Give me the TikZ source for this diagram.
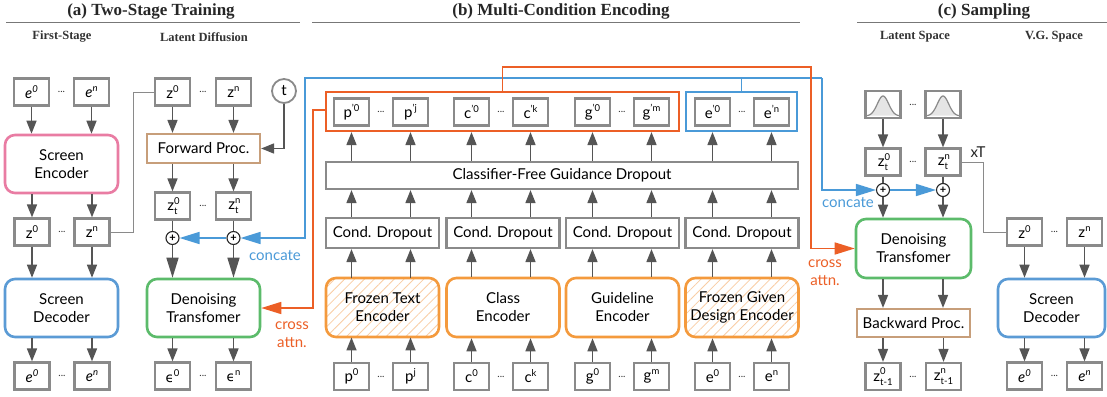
\documentclass[tikz,border=0pt]{standalone}
\usepackage{fontspec}
\setmainfont{Lato}
\newfontfamily\serifb{Liberation Serif}
\newfontfamily\dejavu{DejaVu Sans}
\usetikzlibrary{arrows.meta,patterns.meta,calc}
\definecolor{boxgray}{HTML}{8A8A8A}
\definecolor{arrgray}{HTML}{555555}
\definecolor{pinkc}{HTML}{E97CA3}
\definecolor{bluec}{HTML}{5B9BD5}
\definecolor{greenc}{HTML}{5CBB6B}
\definecolor{tanc}{HTML}{C79E7A}
\definecolor{orangec}{HTML}{F49A3D}
\definecolor{redor}{HTML}{EC5F26}
\definecolor{linkblue}{HTML}{4A9AD8}
\definecolor{hatchc}{HTML}{F9CDA4}
\definecolor{rulec}{HTML}{777777}
\newcommand{\lbl}{\fontsize{15}{18}\selectfont}
\newcommand{\Sup}[2]{#1\raisebox{0.8ex}{\fontsize{9.5}{9.5}\selectfont #2}}
\newcommand{\SupSub}[3]{#1\makebox[0pt][l]{\raisebox{0.85ex}{\fontsize{9.5}{9.5}\selectfont #2}}\raisebox{-0.5ex}{\fontsize{9.5}{9.5}\selectfont #3}}
\tikzset{
  sb/.style={draw=boxgray, line width=2.2pt, minimum width=35pt, minimum height=27pt, inner sep=0pt, fill=white, font=\lbl},
  big/.style={rounded corners=10pt, line width=2.6pt, minimum width=113pt, minimum height=58pt, align=center, fill=white, font=\lbl, inner sep=0pt},
  rectbox/.style={draw=boxgray, line width=2.2pt, minimum width=113pt, minimum height=30pt, inner sep=0pt, fill=white, font=\lbl},
  procbox/.style={draw=tanc, line width=2.2pt, minimum width=113pt, minimum height=29pt, inner sep=0pt, fill=white, font=\lbl},
  hatched/.style={pattern={Lines[angle=45,distance=7pt,line width=0.8pt]}, pattern color=hatchc},
  arr/.style={draw=arrgray, line width=1.5pt, -{Triangle[length=13pt,width=10pt]}},
  arrbig/.style={draw=arrgray, line width=1.5pt, -{Triangle[length=20pt,width=12pt]}},
  plainline/.style={draw=arrgray, line width=1.5pt},
  thinline/.style={draw=boxgray, line width=1pt},
  blueline/.style={draw=linkblue, line width=1.6pt},
  bluearr/.style={draw=linkblue, line width=1.6pt, -{Triangle[length=20pt,width=12pt]}},
  orarr/.style={draw=redor, line width=1.6pt, -{Triangle[length=20pt,width=12pt]}},
  plusc/.style={circle, draw=black!85, line width=1.1pt, fill=white, minimum size=13pt, inner sep=0pt, font=\fontsize{11}{11}\selectfont\bfseries},
  dotsn/.style={font=\fontsize{10}{10}\selectfont, text=black!80},
  title/.style={font=\serifb\bfseries\fontsize{17}{20}\selectfont, text=black!85},
  subtitle/.style={font=\serifb\bfseries\fontsize{12.5}{14}\selectfont, text=black!80},
  rulel/.style={draw=rulec, line width=1pt},
  bluelbl/.style={text=linkblue, font=\lbl},
  orlbl/.style={text=redor, font=\lbl, align=center},
}
\begin{document}
\begin{tikzpicture}[x=1pt,y=-1pt]
\useasboundingbox[fill=white] (0,0) rectangle (1107,396);

% ---------- titles
\node[title] (ta) at (151,11) {(a) Two-Stage Training};
\draw[rulel] (6,23) -- (300,23);
\node[title] (tb) at (561,11) {(b) Multi-Condition Encoding};
\draw[rulel] (312,23) -- (800,23);
\node[title] (tc) at (984,11) {(c) Sampling};
\draw[rulel] (857,23) -- (1107,23);
\node[subtitle] (s1) at (62,37) {First-Stage};
\node[subtitle] (s2) at (204,37) {Latent Diffusion};
\node[subtitle] (s3) at (915,37) {Latent Space};
\node[subtitle] (s4) at (1054,37) {V.G. Space};

% ---------- (a) first stage
\node[sb] (eA0) at (31.5,92) {\Sup{{\itshape e}}{\itshape 0}};
\node[sb] (eAn) at (91.5,92) {\Sup{{\itshape e}}{\itshape n}};
\node[dotsn] (dA1) at (61.5,92) {...};
\node[big, draw=pinkc] (SE) at (61.5,164) {Screen\\Encoder};
\node[sb] (zA0) at (32,232) {\Sup{z}{0}};
\node[sb] (zAn) at (92,232) {\Sup{z}{n}};
\node[dotsn] (dA2) at (62,232) {...};
\node[big, draw=bluec] (SD) at (61.5,308) {Screen\\Decoder};
\node[sb] (eB0) at (32,376) {\Sup{{\itshape e}}{\itshape 0}};
\node[sb] (eBn) at (92,376) {\Sup{{\itshape e}}{\itshape n}};
\node[dotsn] (dA3) at (62,376) {...};

\draw[arr] (eA0) -- (eA0 |- SE.north);
\draw[arr] (eAn) -- (eAn |- SE.north);
\draw[arr] (zA0 |- SE.south) -- (zA0);
\draw[arr] (zAn |- SE.south) -- (zAn);
\draw[arr] (zA0) -- (zA0 |- SD.north);
\draw[arr] (zAn) -- (zAn |- SD.north);
\draw[arr] (eB0 |- SD.south) -- (eB0);
\draw[arr] (eBn |- SD.south) -- (eBn);

% ---------- (a) latent diffusion
\node[sb] (zL0) at (172.5,92) {\Sup{z}{0}};
\node[sb] (zLn) at (233.5,92) {\Sup{z}{n}};
\node[dotsn] (dL1) at (203,92) {...};
\node[circle, draw=boxgray, line width=1.8pt, minimum size=24pt, inner sep=0pt, font=\lbl] (tcirc) at (284,91) {t};
\node[procbox] (FP) at (203.5,148.5) {Forward Proc.};
\node[sb] (zt0) at (172.5,206) {\SupSub{z}{0}{t}};
\node[sb] (ztn) at (233.5,206) {\SupSub{z}{n}{t}};
\node[dotsn] (dL2) at (203,206) {...};
\node[plusc] (pL0) at (172.5,238) {+};
\node[plusc] (pLn) at (233.5,238) {+};
\node[big, draw=greenc] (DT) at (203.5,308) {Denoising\\Transfomer};
\node[sb] (ep0) at (172.5,376) {\Sup{{\dejavu\fontsize{13.5}{13.5}\selectfont ϵ}}{0}};
\node[sb] (epn) at (233.5,376) {\Sup{{\dejavu\fontsize{13.5}{13.5}\selectfont ϵ}}{n}};
\node[dotsn] (dL3) at (203,376) {...};

\coordinate (gA) at (133,92);
\draw[thinline] (zAn.east) -| (gA) -- (zL0.west);
\draw[arr] (zL0) -- (zL0 |- FP.north);
\draw[arr] (zLn) -- (zLn |- FP.north);
\draw[arr] (tcirc) |- (FP.east);
\draw[arr] (zt0 |- FP.south) -- (zt0);
\draw[arr] (ztn |- FP.south) -- (ztn);
\draw[plainline] (zt0) -- (pL0);
\draw[plainline] (ztn) -- (pLn);
\draw[arrbig] (pL0) -- (pL0 |- DT.north);
\draw[arrbig] (pLn) -- (pLn |- DT.north);
\draw[arr] (ep0 |- DT.south) -- (ep0);
\draw[arr] (epn |- DT.south) -- (epn);

% ---------- (b) multi-condition encoding
\node[draw=redor, line width=2.2pt, minimum width=353pt, minimum height=39pt, inner sep=0pt] (OG) at (502.5,111.5) {};
\node[draw=linkblue, line width=2.2pt, minimum width=111pt, minimum height=39pt, inner sep=0pt] (EG) at (741.5,111.5) {};

\node[sb] (pr1a) at (351.5,112) {\Sup{p}{’0}};
\node[sb] (pr1b) at (410.5,112) {\Sup{p}{’j}};
\node[dotsn] (dp1) at (381,112) {...};
\node[sb] (pr2a) at (471.5,112) {\Sup{c}{’0}};
\node[sb] (pr2b) at (530.5,112) {\Sup{c}{’k}};
\node[dotsn] (dp2) at (501,112) {...};
\node[sb] (pr3a) at (592.5,112) {\Sup{g}{’0}};
\node[sb] (pr3b) at (651.5,112) {\Sup{g}{’m}};
\node[dotsn] (dp3) at (622,112) {...};
\node[sb] (pr4a) at (712.5,112) {\Sup{e}{’0}};
\node[sb] (pr4b) at (771.5,112) {\Sup{e}{’n}};
\node[dotsn] (dp4) at (742,112) {...};

\node[draw=boxgray, line width=2.2pt, minimum width=472pt, minimum height=27pt, inner sep=0pt, font=\lbl] (CFG) at (562,175.5) {Classifier-Free Guidance Dropout};

\node[rectbox] (cd1) at (382.5,233) {Cond. Dropout};
\node[rectbox] (cd2) at (503,233) {Cond. Dropout};
\node[rectbox] (cd3) at (622.5,233) {Cond. Dropout};
\node[rectbox] (cd4) at (742,233) {Cond. Dropout};

\node[big, draw=orangec, minimum height=59pt, hatched] (enc1) at (382.5,307.5) {Frozen Text\\Encoder};
\node[big, draw=orangec, minimum height=59pt] (enc2) at (503,307.5) {Class\\Encoder};
\node[big, draw=orangec, minimum height=59pt] (enc3) at (622.5,307.5) {Guideline\\Encoder};
\node[big, draw=orangec, minimum height=59pt, hatched] (enc4) at (742,307.5) {Frozen Given\\Design Encoder};

\node[sb] (in1a) at (351.5,376.5) {\Sup{p}{0}};
\node[sb] (in1b) at (410.5,376.5) {\Sup{p}{j}};
\node[dotsn] (di1) at (381,376.5) {...};
\node[sb] (in2a) at (471.5,376.5) {\Sup{c}{0}};
\node[sb] (in2b) at (530.5,376.5) {\Sup{c}{k}};
\node[dotsn] (di2) at (501,376.5) {...};
\node[sb] (in3a) at (592.5,376.5) {\Sup{g}{0}};
\node[sb] (in3b) at (651.5,376.5) {\Sup{g}{m}};
\node[dotsn] (di3) at (622,376.5) {...};
\node[sb] (in4a) at (712.5,376.5) {\Sup{e}{0}};
\node[sb] (in4b) at (771.5,376.5) {\Sup{e}{n}};
\node[dotsn] (di4) at (742,376.5) {...};

\foreach \n/\e/\c/\g in {in1a/enc1/cd1/OG, in1b/enc1/cd1/OG, in2a/enc2/cd2/OG, in2b/enc2/cd2/OG, in3a/enc3/cd3/OG, in3b/enc3/cd3/OG, in4a/enc4/cd4/EG, in4b/enc4/cd4/EG}{
  \draw[arr] (\n) -- (\n |- \e.south);
  \draw[arr] (\n |- \e.north) -- (\n |- \c.south);
  \draw[arr] (\n |- \c.north) -- (\n |- CFG.south);
  \draw[arr] (\n |- CFG.north) -- (\n |- \g.south);
}

% ---------- (c) sampling
\node[sb] (gs0) at (883,104.5) {};
\node[sb] (gsn) at (943,104.5) {};
\node[dotsn] (dS1) at (913,104.5) {...};
\foreach \cx in {883,943}{
  \fill[black!10] plot[domain=-1:1,samples=40,smooth] ({\cx+16*\x},{116-20*exp(-4*\x*\x)}) -- cycle;
  \draw[boxgray, line width=1.2pt] plot[domain=-1:1,samples=40,smooth] ({\cx+16*\x},{116-20*exp(-4*\x*\x)});
}
\node[sb] (ztS0) at (883,162) {\SupSub{z}{0}{t}};
\node[sb] (ztSn) at (943,162) {\SupSub{z}{n}{t}};
\node[dotsn] (dS2) at (913,162) {...};
\node[plusc] (pS0) at (883,190) {+};
\node[plusc] (pSn) at (943,190) {+};
\node[big, draw=greenc, minimum width=115pt, minimum height=59pt] (DTS) at (913.5,248.5) {Denoising\\Transfomer};
\node[procbox, minimum height=28pt] (BP) at (913.5,323) {Backward Proc.};
\node[sb] (zS0) at (883,376.5) {\SupSub{z}{0}{t-1}};
\node[sb] (zSn) at (943.5,376.5) {\SupSub{z}{n}{t-1}};
\node[dotsn] (dS3) at (913,376.5) {...};
\node[font=\lbl, text=black!85] (xT) at (978,152) {xT};

\draw[arr] (gs0) -- (ztS0);
\draw[arr] (gsn) -- (ztSn);
\draw[plainline] (ztS0) -- (pS0);
\draw[plainline] (ztSn) -- (pSn);
\draw[arr] (pS0) -- (pS0 |- DTS.north);
\draw[arr] (pSn) -- (pSn |- DTS.north);
\draw[arr] (pS0 |- DTS.south) -- (pS0 |- BP.north);
\draw[arr] (pSn |- DTS.south) -- (pSn |- BP.north);
\draw[arr] (zS0 |- BP.south) -- (zS0);
\draw[arr] (zSn |- BP.south) -- (zSn);

% V.G. space
\node[sb] (zV0) at (1024.5,232) {\Sup{z}{0}};
\node[sb] (zVn) at (1084.5,232) {\Sup{z}{n}};
\node[dotsn] (dV1) at (1054.5,232) {...};
\node[big, draw=bluec, minimum width=107pt] (SDV) at (1051.5,308) {Screen\\Decoder};
\node[sb] (eV0) at (1024.5,376) {\Sup{{\itshape e}}{\itshape 0}};
\node[sb] (eVn) at (1084.5,376) {\Sup{{\itshape e}}{\itshape n}};
\node[dotsn] (dV2) at (1054.5,376) {...};
\draw[arr] (zV0) -- (zV0 |- SDV.north);
\draw[arr] (zVn) -- (zVn |- SDV.north);
\draw[arr] (eV0 |- SDV.south) -- (eV0);
\draw[arr] (eVn |- SDV.south) -- (eVn);

\coordinate (gx1) at (983,162);
\coordinate (gx2) at (983,232);
\draw[thinline] (ztSn.east) -- (gx1) -- (gx2) -- (zV0.west);

% ---------- concat (blue) connectors
\coordinate (bl1) at (305,78);
\coordinate (bl2) at (305,238);
\coordinate (br1) at (822,78);
\coordinate (br2) at (822,190);
\draw[blueline] (EG.north) -- (EG.north |- bl1);
\draw[bluearr] (br1) -- (bl1) -- (bl2) -- (pLn.east);
\draw[bluearr] (pLn.west) -- (pL0.east);
\draw[bluearr] (br1) -- (br2) -- (pS0.west);
\draw[bluearr] (pS0.east) -- (pSn.west);
\node[bluelbl] (cl1) at (275,256) {concate};
\node[bluelbl] (cl2) at (848,203) {concate};

% ---------- cross attention (orange) connectors
\coordinate (o1) at (502.5,67);
\coordinate (o2) at (811,67);
\coordinate (o3) at (811,248.5);
\draw[orarr] (OG.north) -- (o1) -- (o2) -- (o3) -- (DTS.west);
\coordinate (o4) at (313,110);
\coordinate (o5) at (313,308);
\draw[orarr] (OG.west |- o4) -- (o4) -- (o5) -- (DT.east);
\node[orlbl] (ca1) at (292,335) {cross\\attn.};
\node[orlbl] (ca2) at (825,273) {cross\\attn.};
\end{tikzpicture}
\end{document}
